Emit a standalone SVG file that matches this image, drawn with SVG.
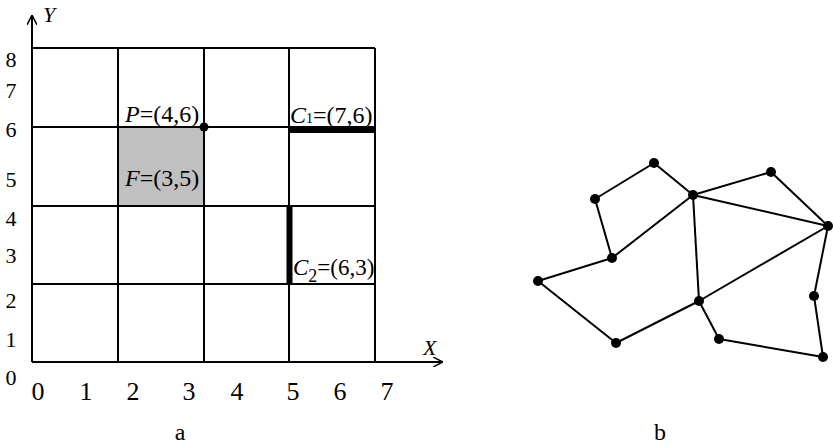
<svg xmlns="http://www.w3.org/2000/svg" width="833" height="445" viewBox="0 0 833 445">
<style>
.g{stroke:#000;stroke-width:2;fill:none}
.t{font-family:"Liberation Serif",serif;fill:#000}
.i{font-style:italic}
.e{stroke:#000;stroke-width:2;fill:none}
.n{fill:#000}
</style>
<defs>
<marker id="ar" viewBox="0 0 10 10" refX="9" refY="5" markerWidth="10" markerHeight="10" markerUnits="userSpaceOnUse" orient="auto">
<path d="M0,0 L10,5 L0,10" fill="none" stroke="#000" stroke-width="1.5"/>
</marker>
</defs>
<g id="panel-a">
<rect x="118" y="127" width="86" height="79" fill="#c0c0c0"/>
<g id="grid">
<line class="g" x1="32" y1="48" x2="375" y2="48"/>
<line class="g" x1="32" y1="127" x2="375" y2="127"/>
<line class="g" x1="32" y1="206" x2="375" y2="206"/>
<line class="g" x1="32" y1="284" x2="375" y2="284"/>
<line class="g" x1="118" y1="48" x2="118" y2="362"/>
<line class="g" x1="204" y1="48" x2="204" y2="362"/>
<line class="g" x1="289" y1="48" x2="289" y2="362"/>
<line class="g" x1="375" y1="48" x2="375" y2="362"/>
</g>
<g id="axes">
<line class="g" x1="32" y1="362" x2="442" y2="362" marker-end="url(#ar)"/>
<line class="g" x1="32" y1="362" x2="32" y2="16" marker-end="url(#ar)"/>
</g>
<text class="t i" x="43" y="22" font-size="22">Y</text>
<text class="t i" x="423" y="355" font-size="22">X</text>
<g class="t" font-size="22" text-anchor="middle">
<text x="11" y="67">8</text>
<text x="11" y="98">7</text>
<text x="11" y="137">6</text>
<text x="11" y="187">5</text>
<text x="11" y="226">4</text>
<text x="11" y="263">3</text>
<text x="11" y="308">2</text>
<text x="11" y="347">1</text>
<text x="11" y="385">0</text>
</g>
<g class="t" font-size="26" text-anchor="middle">
<text x="38" y="400">0</text>
<text x="86" y="400">1</text>
<text x="133" y="400">2</text>
<text x="189" y="400">3</text>
<text x="237" y="400">4</text>
<text x="293" y="400">5</text>
<text x="340" y="400">6</text>
<text x="387" y="400">7</text>
</g>
<text class="t" x="180" y="440" font-size="24" text-anchor="middle">a</text>
<g id="P">
<circle class="n" cx="204" cy="127" r="4.5"/>
<text class="t" x="125" y="122" font-size="24"><tspan class="i">P</tspan>=(4,6)</text>
</g>
<g id="F">
<text class="t" x="125" y="186" font-size="24"><tspan class="i">F</tspan>=(3,5)</text>
</g>
<g id="C1">
<text class="t" x="290" y="123" font-size="24"><tspan class="i">C</tspan><tspan font-size="14">1</tspan>=(7,6)</text>
<line x1="289" y1="130" x2="375" y2="130" stroke="#000" stroke-width="6"/>
</g>
<g id="C2">
<line x1="289.5" y1="206" x2="289.5" y2="284" stroke="#000" stroke-width="6"/>
<text class="t" x="293" y="275" font-size="23"><tspan class="i">C</tspan><tspan font-size="18" dy="7">2</tspan><tspan dy="-7">=(6,3)</tspan></text>
</g>
</g>
<g id="panel-b">
<g id="connectors">
<line class="e" x1="595" y1="199" x2="654" y2="163"/>
<line class="e" x1="654" y1="163" x2="693" y2="195"/>
<line class="e" x1="693" y1="195" x2="771" y2="172"/>
<line class="e" x1="771" y1="172" x2="828" y2="226"/>
<line class="e" x1="693" y1="195" x2="828" y2="226"/>
<line class="e" x1="595" y1="199" x2="612" y2="258"/>
<line class="e" x1="612" y1="258" x2="693" y2="195"/>
<line class="e" x1="612" y1="258" x2="538" y2="281"/>
<line class="e" x1="538" y1="281" x2="616" y2="343"/>
<line class="e" x1="616" y1="343" x2="699" y2="301"/>
<line class="e" x1="699" y1="301" x2="693" y2="195"/>
<line class="e" x1="699" y1="301" x2="828" y2="226"/>
<line class="e" x1="699" y1="301" x2="719" y2="339"/>
<line class="e" x1="719" y1="339" x2="823" y2="357"/>
<line class="e" x1="823" y1="357" x2="814" y2="296"/>
<line class="e" x1="814" y1="296" x2="828" y2="226"/>
</g>
<g id="n1"><circle class="n" cx="654" cy="163" r="5"/></g>
<g id="n2"><circle class="n" cx="595" cy="199" r="5"/></g>
<g id="n3"><circle class="n" cx="693" cy="195" r="5"/></g>
<g id="n4"><circle class="n" cx="771" cy="172" r="5"/></g>
<g id="n5"><circle class="n" cx="828" cy="226" r="5"/></g>
<g id="n6"><circle class="n" cx="612" cy="258" r="5"/></g>
<g id="n7"><circle class="n" cx="538" cy="281" r="5"/></g>
<g id="n8"><circle class="n" cx="699" cy="301" r="5"/></g>
<g id="n9"><circle class="n" cx="814" cy="296" r="5"/></g>
<g id="n10"><circle class="n" cx="616" cy="343" r="5"/></g>
<g id="n11"><circle class="n" cx="719" cy="339" r="5"/></g>
<g id="n12"><circle class="n" cx="823" cy="357" r="5"/></g>
<text class="t" x="660" y="440" font-size="24" text-anchor="middle">b</text>
</g>
</svg>
